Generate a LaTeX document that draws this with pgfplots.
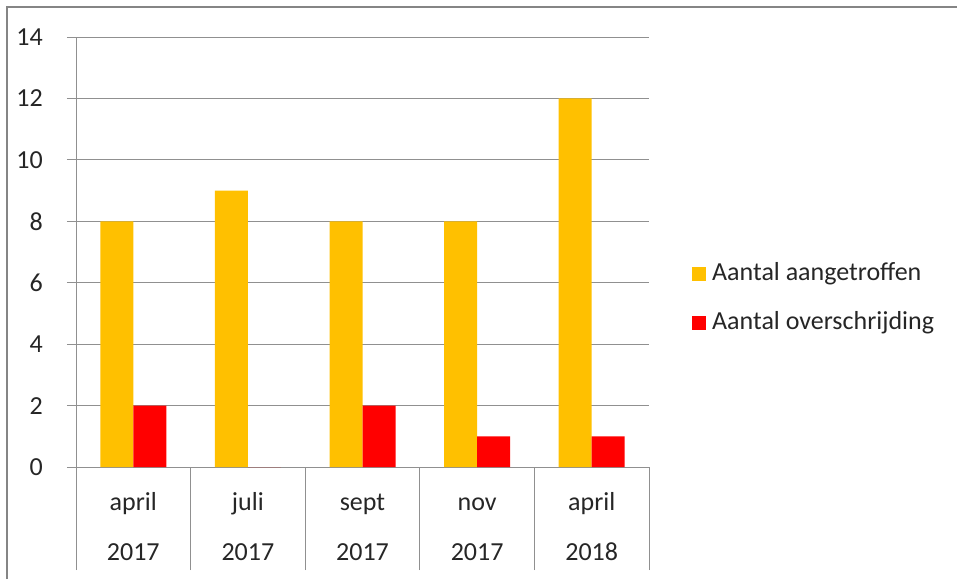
\documentclass[border=0pt]{standalone}
\usepackage{pgfplots}
\pgfplotsset{compat=1.18}
\usepackage{fontspec}
\setmainfont{Carlito}
\definecolor{goud}{HTML}{FFC000}
\definecolor{rood}{HTML}{FF0000}
\definecolor{lijn}{HTML}{909090}
\definecolor{rand}{HTML}{858585}
\newcommand\cat[2]{\rule{0pt}{34pt}#1\\#2}

\begin{document}
\begin{tikzpicture}
\useasboundingbox (0,0) rectangle (957pt,579pt);
\draw[rand, line width=2pt] (7pt,0) -- (7pt,572pt) -- (957pt,572pt);
\begin{axis}[
    at={(76pt,112pt)}, anchor=south west,
    scale only axis, width=573pt, height=430pt,
    ybar=0pt, bar width=33pt,
    xmin=-0.5, xmax=4.5, ymin=0, ymax=14,
    ytick={0,2,...,14},
    xtick={0,...,4},
    xticklabels={\cat{april}{2017},\cat{juli}{2017},\cat{sept}{2017},\cat{nov}{2017},\cat{april}{2018}},
    x tick style={draw=none},
    extra x ticks={-0.5,0.5,...,4.5},
    extra x tick labels={},
    extra x tick style={major tick length=103pt, x tick style={draw=lijn, line width=0.8pt}},
    axis x line*=bottom, axis y line*=left,
    axis line style={draw=lijn, line width=0.8pt, -},
    ymajorgrids, grid style={draw=lijn, line width=0.8pt},
    tick align=outside, major tick length=9pt,
    y tick style={draw=lijn, line width=0.8pt},
    /pgf/number format/assume math mode=true,
    tick label style={font=\fontsize{26}{30}\selectfont, text=black!85},
    yticklabel style={anchor=east, inner sep=0pt, xshift=-24pt},
    xticklabel style={align=center, font=\fontsize{26}{50}\selectfont, inner sep=0pt, anchor=north},
    legend cell align=left,
    legend style={at={(1.075,0.393)}, anchor=west, draw=none, fill=none,
        font=\fontsize{26}{30}\selectfont, text=black!85, row sep=24pt, column sep=6pt, inner sep=0pt,
        nodes={inner sep=0pt, text height=19pt, text depth=6pt}},
    legend image code/.code={\fill[#1, draw=none] (0pt,-7pt) rectangle (14pt,7pt);},
]
\addplot[fill=goud, draw=none] coordinates {(0,8) (1,9) (2,8) (3,8) (4,12)};
\addlegendentry{Aantal aangetroffen}
\addplot[fill=rood, draw=none] coordinates {(0,2) (1,0) (2,2) (3,1) (4,1)};
\addlegendentry{Aantal overschrijding}
\end{axis}
\end{tikzpicture}
\end{document}
